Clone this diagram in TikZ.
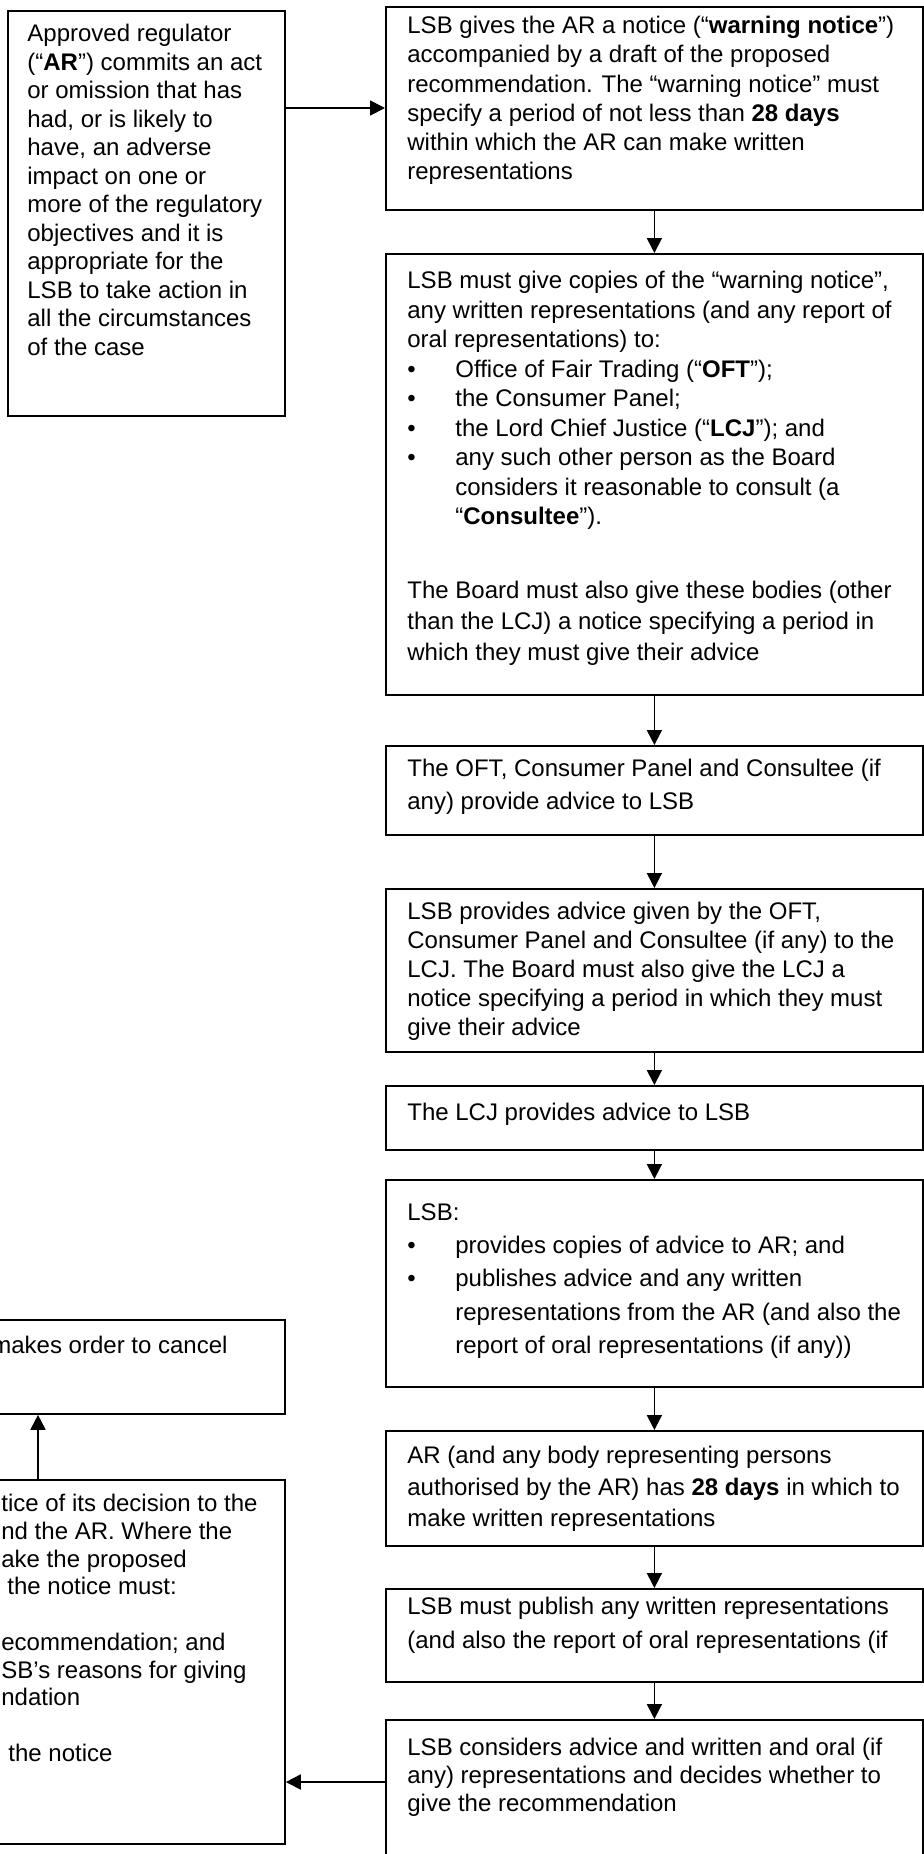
\documentclass[tikz,border=0pt]{standalone}
\usepackage{fontspec}
\setmainfont{Liberation Sans}
\usetikzlibrary{arrows.meta}

\newcommand{\bul}{\makebox[24pt][l]{\textbullet}}
\newcommand{\ind}{\hspace*{24pt}}

\begin{document}
\begin{tikzpicture}[x=0.5pt, y=-0.5pt, >={Triangle[length=7.5pt,width=7.5pt]},
  box/.style={draw, line width=0.9pt, anchor=north west, inner sep=0pt, minimum width=268.5pt},
  txt/.style={anchor=north west, align=left, inner sep=0pt, font=\fontsize{12}{#1}\selectfont,
    execute at begin node=\rule{0pt}{10pt}},
  arr/.style={->, line width=0.9pt}]
  \useasboundingbox (0,0) rectangle (924,1854);

  % boxes
  \node[box, minimum width=138.5pt, minimum height=202.5pt] (ar) at (7,10) {};
  \node[box, minimum height=101.5pt] (b1) at (385,6) {};
  \node[box, minimum height=220.5pt] (b2) at (385,253) {};
  \node[box, minimum height=44.5pt] (b3) at (385,745) {};
  \node[box, minimum height=81.5pt] (b4) at (385,888) {};
  \node[box, minimum height=32pt] (b5) at (385,1085) {};
  \node[box, minimum height=103.5pt] (b6) at (385,1179) {};
  \node[box, minimum height=57.5pt] (b7) at (385,1430) {};
  \node[box, minimum height=46.5pt] (b8) at (385,1588) {};
  \node[box, minimum height=90.5pt] (b9) at (385,1719) {};
  \node[box, minimum width=292pt, minimum height=47pt] (ord) at (-300,1319) {};
  \node[box, minimum width=292pt, minimum height=182pt] (dec) at (-300,1479) {};

  % texts (top of first line set 10pt above its baseline)
  \node[txt=14.25pt] (arT) at (27,24) {Approved regulator\\
    (“\textbf{AR}”) commits an act\\
    or omission that has\\
    had, or is likely to\\
    have, an adverse\\
    impact on one or\\
    more of the regulatory\\
    objectives and it is\\
    appropriate for the\\
    LSB to take action in\\
    all the circumstances\\
    of the case};
  \node[txt=14.6pt] (b1T) at (407,16) {LSB gives the AR a notice (“\textbf{warning notice}”)\\
    accompanied by a draft of the proposed\\
    recommendation. The “warning notice” must\\
    specify a period of not less than \textbf{28 days}\\
    within which the AR can make written\\
    representations};
  \node[txt=14.75pt] (b2T) at (407,271) {LSB must give copies of the “warning notice”,\\
    any written representations (and any report of\\
    oral representations) to:\\
    \bul Office of Fair Trading (“\textbf{OFT}”);\\
    \bul the Consumer Panel;\\
    \bul the Lord Chief Justice (“\textbf{LCJ}”); and\\
    \bul any such other person as the Board\\
    \ind considers it reasonable to consult (a\\
    \ind “\textbf{Consultee}”).\\[22pt]
    The Board must also give these bodies (other\\[0.8pt]
    than the LCJ) a notice specifying a period in\\[0.8pt]
    which they must give their advice};
  \node[txt=16.5pt] (b3T) at (407,759) {The OFT, Consumer Panel and Consultee (if\\
    any) provide advice to LSB};
  \node[txt=14.4pt] (b4T) at (407,902) {LSB provides advice given by the OFT,\\
    Consumer Panel and Consultee (if any) to the\\
    LCJ. The Board must also give the LCJ a\\
    notice specifying a period in which they must\\
    give their advice};
  \node[txt=14pt] (b5T) at (407,1100) {The LCJ provides advice to LSB};
  \node[txt=16.7pt] (b6T) at (407,1203) {LSB:\\
    \bul provides copies of advice to AR; and\\
    \bul publishes advice and any written\\
    \ind representations from the AR (and also the\\
    \ind report of oral representations (if any))};
  \node[txt=15.75pt] (b7T) at (407,1446) {AR (and any body representing persons\\
    authorised by the AR) has \textbf{28 days} in which to\\
    make written representations};
  \node[txt=17pt] (b8T) at (407,1597) {LSB must publish any written representations\\
    (and also the report of oral representations (if};
  \node[txt=14pt] (b9T) at (407,1738) {LSB considers advice and written and oral (if\\
    any) representations and decides whether to\\
    give the recommendation};
  \node[txt=14pt] (ordT) at (-9,1333) {makes order to cancel};
  \node[txt=13.85pt] (decT) at (1,1494) {tice of its decision to the\\
    nd the AR. Where the\\
    ake the proposed\\
    \hspace*{3pt}the notice must:\\[13.85pt]
    ecommendation; and\\
    SB’s reasons for giving\\
    ndation\\[13.85pt]
    \hspace*{3.5pt}the notice};

  % connectors
  \coordinate (a1) at (0,108);
  \coordinate (a2) at (38,0);
  \coordinate (a3) at (0,1782);
  \draw[arr] (ar.east |- a1) -- (b1.west |- a1);
  \foreach \a/\b in {b1/b2, b2/b3, b3/b4, b4/b5, b5/b6, b6/b7, b7/b8, b8/b9}
    \draw[arr] (\a) -- (\b);
  \draw[arr] (b9.west |- a3) -- (dec.east |- a3);
  \draw[arr] (dec.north -| a2) -- (ord.south -| a2);
\end{tikzpicture}
\end{document}
